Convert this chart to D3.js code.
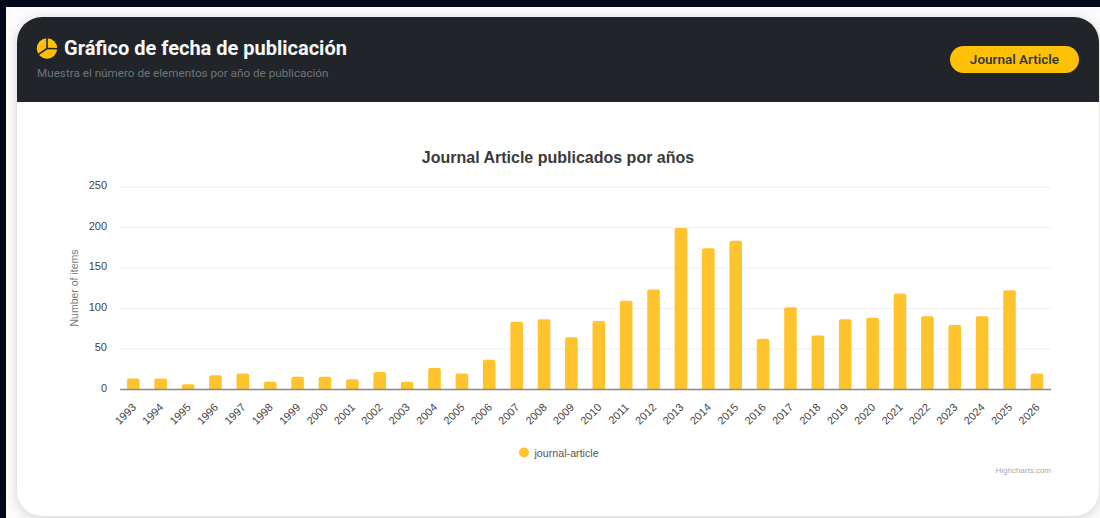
<!DOCTYPE html>
<html lang="es">
<head>
<meta charset="utf-8">
<title>Gráfico de fecha de publicación</title>
<script src="https://cdn.jsdelivr.net/npm/d3@7/dist/d3.min.js"></script>
<style>
  html, body { margin: 0; padding: 0; width: 1100px; height: 518px; overflow: hidden; background: #010818; }
  svg { display: block; }
  text { font-family: Roboto, "Liberation Sans", sans-serif; }
  .hc text { font-family: "Liberation Sans", Arial, sans-serif; }
</style>
</head>
<body>
<svg id="page" width="1100" height="518"></svg>
<script>
// Publication counts per year
const years = ["1993","1994","1995","1996","1997","1998","1999","2000","2001","2002","2003","2004","2005","2006","2007","2008","2009","2010","2011","2012","2013","2014","2015","2016","2017","2018","2019","2020","2021","2022","2023","2024","2025","2026"];
const counts = [13,13,6,17,19,9,15,15,12,21,9,26,19,36,83,86,64,84,109,123,199,174,183,62,101,66,86,88,118,90,79,90,122,19];
const yTicks = [0,50,100,150,200,250];
const seriesName = "journal-article";
const chartTitle = "Journal Article publicados por años";
const yTitle = "Number of items";
const headerTitle = "Gráfico de fecha de publicación";
const headerSubtitle = "Muestra el número de elementos por año de publicación";
const badgeLabel = "Journal Article";
const credits = "Highcharts.com";

const amber = "#ffc107";
const barColor = "#ffc42d";

const svg = d3.select("#page");
const defs = svg.append("defs");

const shadow = defs.append("filter").attr("id", "cardShadow")
  .attr("x", "-5%").attr("y", "-5%").attr("width", "110%").attr("height", "110%");
shadow.append("feGaussianBlur").attr("stdDeviation", 6);

// Pale page area behind the card
svg.append("rect").attr("x", 6).attr("y", 7).attr("width", 1094).attr("height", 511).attr("fill", "#fbfbfb");

// Card with soft shadow
const card = { x: 17, y: 17, w: 1082, h: 499, r: 25, head: 85 };
svg.append("rect").attr("x", card.x).attr("y", card.y + 2).attr("width", card.w).attr("height", card.h)
  .attr("rx", card.r).attr("fill", "#000").attr("opacity", 0.16).attr("filter", "url(#cardShadow)");
svg.append("rect").attr("x", card.x).attr("y", card.y).attr("width", card.w).attr("height", card.h)
  .attr("rx", card.r).attr("fill", "#fff");

// Dark header with rounded upper corners only
const hx0 = card.x, hx1 = card.x + card.w, hy0 = card.y, hy1 = card.y + card.head, r = card.r;
svg.append("path")
  .attr("d", `M${hx0},${hy1}V${hy0 + r}A${r},${r} 0 0 1 ${hx0 + r},${hy0}H${hx1 - r}A${r},${r} 0 0 1 ${hx1},${hy0 + r}V${hy1}Z`)
  .attr("fill", "#212529");

// Pie icon in the header: three slice divisions
const icon = svg.append("g").attr("transform", "translate(47,48.5)");
icon.append("circle").attr("r", 10.2).attr("fill", amber);
[[0, -11], [11, 0.3], [-8.8, 6.2]].forEach(([x, y]) => {
  icon.append("line").attr("x1", 0).attr("y1", 0).attr("x2", x).attr("y2", y)
    .attr("stroke", "#212529").attr("stroke-width", 1.6);
});

svg.append("text").attr("x", 64).attr("y", 55).attr("fill", "#f8f9fa")
  .attr("font-size", 20).attr("font-weight", 700).text(headerTitle);
svg.append("text").attr("x", 37).attr("y", 77).attr("fill", "#6c757d")
  .attr("font-size", 11.7).text(headerSubtitle);

// Category badge
svg.append("rect").attr("x", 950).attr("y", 46).attr("width", 129).attr("height", 27)
  .attr("rx", 13.5).attr("fill", amber);
svg.append("text").attr("x", 1014.5).attr("y", 64).attr("text-anchor", "middle")
  .attr("fill", "#343a40").attr("font-size", 13.5).attr("font-weight", 600).text(badgeLabel);

// Chart area
const plot = { left: 120, right: 1051, top: 186.6, bottom: 389 };
const x = d3.scaleBand().domain(years).range([plot.left - 0.4, plot.right - 0.4]).paddingInner(0.54).paddingOuter(0.27);
const y = d3.scaleLinear().domain([0, 250]).range([plot.bottom, plot.top]);
const hc = svg.append("g").attr("class", "hc");

hc.append("text").attr("x", 558).attr("y", 163).attr("text-anchor", "middle")
  .attr("fill", "#3a3a3a").attr("font-size", 16).attr("font-weight", 700).text(chartTitle);

// Value axis and gridlines
const yAxis = hc.append("g").attr("transform", `translate(${plot.left},0)`)
  .call(d3.axisLeft(y).tickValues(yTicks).tickSize(-(plot.right - plot.left)).tickPadding(13));
yAxis.select(".domain").remove();
yAxis.selectAll("line").attr("stroke", "#f0f0f0");
yAxis.selectAll("text").attr("fill", "#444").attr("font-size", 11)
  .attr("font-family", '"Liberation Sans", Arial, sans-serif').attr("dy", "0.2em");

hc.append("text").attr("transform", "translate(78,288) rotate(-90)").attr("text-anchor", "middle")
  .attr("fill", "#777").attr("font-size", 10.5).text(yTitle);

// Bars with slightly rounded tops
hc.append("g").selectAll("path").data(years).join("path")
  .attr("fill", barColor)
  .attr("d", (d, i) => {
    const bx = x(d), w = x.bandwidth(), t = y(counts[i]), b = y(0), c = 2;
    return `M${bx},${b}V${t + c}Q${bx},${t} ${bx + c},${t}H${bx + w - c}Q${bx + w},${t} ${bx + w},${t + c}V${b}Z`;
  });

// Category axis with slanted labels
const xAxis = hc.append("g").attr("transform", `translate(0,${plot.bottom})`)
  .call(d3.axisBottom(x).tickSize(0).tickPadding(0));
xAxis.select(".domain").attr("stroke", "#888").attr("stroke-width", 1.4);
xAxis.selectAll("text")
  .attr("fill", "#444").attr("font-size", 11)
  .attr("font-family", '"Liberation Sans", Arial, sans-serif')
  .attr("text-anchor", "end").attr("dy", null)
  .attr("transform", "translate(3.5,19) rotate(-45)");

// Legend
hc.append("circle").attr("cx", 524).attr("cy", 452.5).attr("r", 5).attr("fill", barColor);
hc.append("text").attr("x", 534.5).attr("y", 456.5).attr("fill", "#555").attr("font-size", 10.7).text(seriesName);

hc.append("text").attr("x", 1051).attr("y", 473).attr("text-anchor", "end")
  .attr("fill", "#aaa").attr("font-size", 8).text(credits);
</script>
</body>
</html>
